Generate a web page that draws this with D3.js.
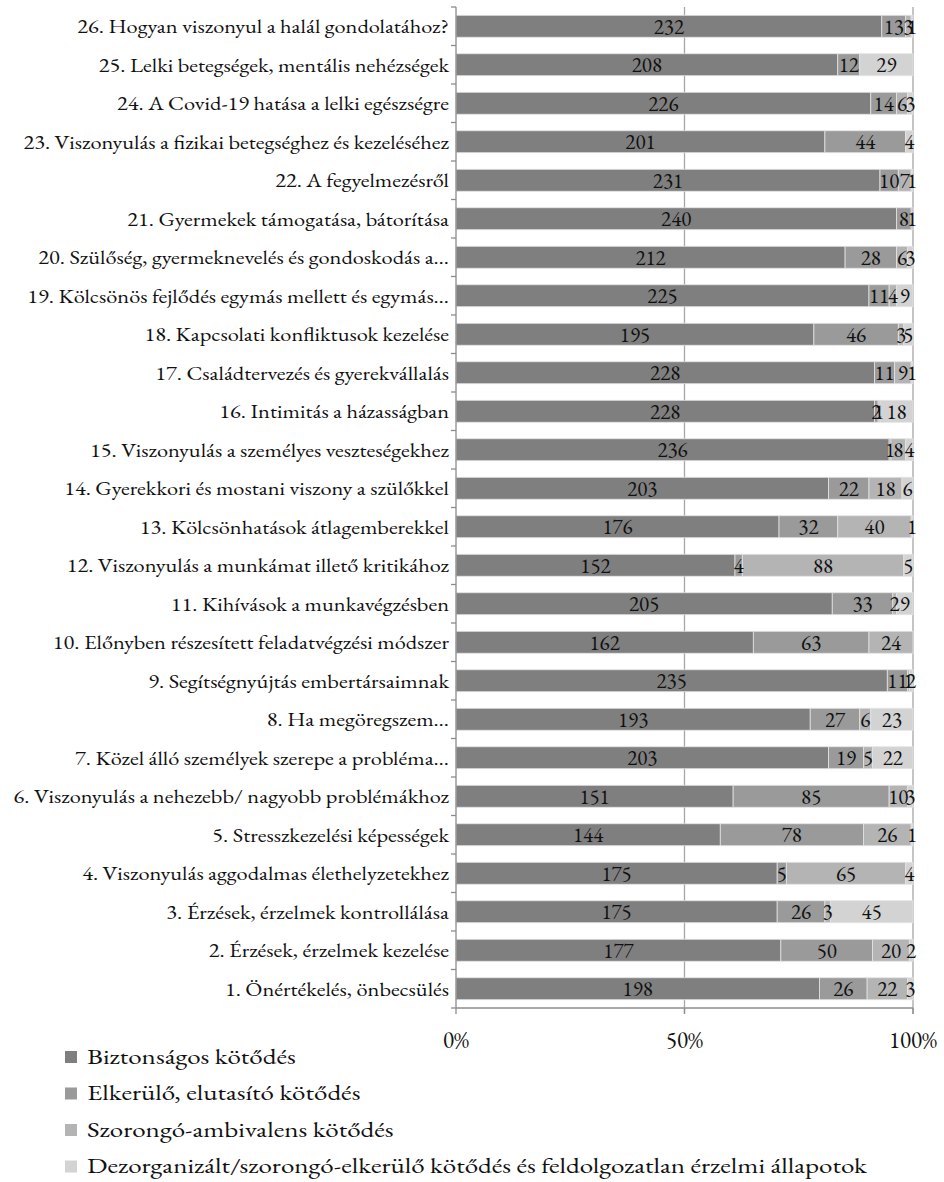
<!DOCTYPE html>
<html><head><meta charset="utf-8">
<script src="https://cdn.jsdelivr.net/npm/d3@7"></script>
<style>body{margin:0;background:#fff}</style>
</head><body><svg id="c" width="944" height="1182"></svg>
<script>
const categories = [
"26. Hogyan viszonyul a halál gondolatához?",
"25. Lelki betegségek, mentális nehézségek",
"24. A Covid-19 hatása a lelki egészségre",
"23. Viszonyulás a fizikai betegséghez és kezeléséhez",
"22. A fegyelmezésről",
"21. Gyermekek támogatása, bátorítása",
"20. Szülőség, gyermeknevelés és gondoskodás a…",
"19. Kölcsönös fejlődés egymás mellett és egymás…",
"18. Kapcsolati konfliktusok kezelése",
"17. Családtervezés és gyerekvállalás",
"16. Intimitás a házasságban",
"15. Viszonyulás a személyes veszteségekhez",
"14. Gyerekkori és mostani viszony a szülőkkel",
"13. Kölcsönhatások átlagemberekkel",
"12. Viszonyulás a munkámat illető kritikához",
"11. Kihívások a munkavégzésben",
"10. Előnyben részesített feladatvégzési módszer",
"9. Segítségnyújtás embertársaimnak",
"8. Ha megöregszem…",
"7. Közel álló személyek szerepe a probléma…",
"6. Viszonyulás a nehezebb/ nagyobb problémákhoz",
"5. Stresszkezelési képességek",
"4. Viszonyulás aggodalmas élethelyzetekhez",
"3. Érzések, érzelmek kontrollálása",
"2. Érzések, érzelmek kezelése",
"1. Önértékelés, önbecsülés"
];
const seriesNames = ["Biztonságos kötődés","Elkerülő, elutasító kötődés","Szorongó-ambivalens kötődés","Dezorganizált/szorongó-elkerülő kötődés és feldolgozatlan érzelmi állapotok"];
const biztonsagos = [232,208,226,201,231,240,212,225,195,228,228,236,203,176,152,205,162,235,193,203,151,144,175,175,177,198];
const elkerulo    = [13,12,14,44,10,8,28,11,46,11,2,1,22,32,4,33,63,11,27,19,85,78,5,26,50,26];
const szorongo    = [3,0,6,0,7,1,6,4,3,9,1,8,18,40,88,2,24,1,6,5,10,26,65,3,20,22];
const dezorg      = [1,29,3,4,1,0,3,9,5,1,18,4,6,1,5,9,0,2,23,22,3,1,4,45,2,3];
const tickLabels = ["0%","50%","100%"];
const colors = ["#7f7f7f","#9a9a9a","#b4b4b4","#d3d3d3"];
const FONT = '"EB Garamond", "Liberation Serif", serif';

const svg = d3.select("#c");
const x0=456, x1=913, yTop=7, yBot=1008;
const x = d3.scaleLinear().domain([0,1]).range([x0,x1]);
const y = d3.scaleBand().domain(categories).range([yTop,yBot]).paddingInner(0.43).paddingOuter(0.215);
const yb = d3.scaleBand().domain(categories).range([yTop,yBot]);

const seriesArr=[biztonsagos,elkerulo,szorongo,dezorg];
const rows = categories.map((c,i)=>{const o={cat:c};seriesArr.forEach((s,k)=>o["s"+k]=s[i]);return o;});
const keys=["s0","s1","s2","s3"];
const stack = d3.stack().keys(keys).offset(d3.stackOffsetExpand)(rows);

// gridlines
svg.append("g").selectAll("line").data([0.5,1]).join("line")
 .attr("x1",d=>x(d)).attr("x2",d=>x(d)).attr("y1",yTop).attr("y2",yBot+6)
 .attr("stroke","#a6a6a6").attr("stroke-width",1.3);

// bars
const g = svg.append("g");
stack.forEach((layer,k)=>{
  g.append("g").selectAll("rect").data(layer).join("rect")
   .attr("x",d=>x(d[0])).attr("width",d=>Math.max(0,x(d[1])-x(d[0])))
   .attr("y",d=>y(d.data.cat)).attr("height",y.bandwidth())
   .attr("fill",colors[k]).attr("stroke","#e3e3e3").attr("stroke-width",0.8);
});
// labels
stack.forEach((layer,k)=>{
  g.append("g").selectAll("text").data(layer.filter(d=>d.data[keys[k]]>0)).join("text")
   .style("font-family",FONT)
   .attr("x",d=>(x(d[0])+x(d[1]))/2).attr("y",d=>y(d.data.cat)+y.bandwidth()/2)
   .attr("dy","0.35em").attr("text-anchor","middle").attr("font-size",21).attr("fill","#111")
   .text(d=>d.data[keys[k]]);
});

// y axis
const ax = svg.append("g");
ax.append("line").attr("x1",x0).attr("x2",x0).attr("y1",yTop).attr("y2",yBot).attr("stroke","#8c8c8c").attr("stroke-width",1.3);
ax.selectAll("line.t").data(d3.range(categories.length+1)).join("line").attr("class","t")
 .attr("x1",x0-5).attr("x2",x0).attr("y1",i=>yTop+i*yb.step()).attr("y2",i=>yTop+i*yb.step()).attr("stroke","#8c8c8c").attr("stroke-width",1.3);
const catG = ax.append("g");
const catT = catG.selectAll("text").data(categories).join("text")
 .style("font-family",FONT)
 .attr("x",0).attr("y",d=>yb(d)+yb.bandwidth()/2).attr("dy","0.35em").attr("text-anchor","end")
 .attr("font-size",20).attr("fill","#111").text(d=>d);
const kc = 372 / catT.nodes()[0].getComputedTextLength();
catG.attr("transform",`translate(449,0) scale(${kc},1)`);

// x axis
svg.append("line").attr("x1",x0).attr("x2",x1).attr("y1",yBot).attr("y2",yBot).attr("stroke","#8c8c8c").attr("stroke-width",1.3);
svg.append("g").selectAll("line").data([0,0.5,1]).join("line")
 .attr("x1",d=>x(d)).attr("x2",d=>x(d)).attr("y1",yBot).attr("y2",yBot+6).attr("stroke","#8c8c8c").attr("stroke-width",1.3);
svg.append("g").selectAll("text").data([0,0.5,1]).join("text")
 .style("font-family",FONT)
 .attr("x",d=>x(d)).attr("y",1040).attr("dy","0.35em").attr("text-anchor","middle")
 .attr("font-size",23).attr("fill","#111").text((d,i)=>tickLabels[i]);

// legend
const lg = svg.append("g");
const legT = [];
seriesNames.forEach((n,i)=>{
  const cy = 1056 + i*36.5;
  lg.append("rect").attr("x",65).attr("y",cy-5).attr("width",12).attr("height",12).attr("fill",colors[i]);
  const tg = lg.append("g");
  tg.append("text").style("font-family",FONT).attr("x",0).attr("y",cy).attr("dy","0.35em").attr("font-size",22).attr("fill","#111").text(n);
  legT.push(tg);
});
const kl = 780 / legT[3].select("text").node().getComputedTextLength();
legT.forEach(tg=>tg.attr("transform",`translate(87,0) scale(${kl},1)`));
</script></body></html>
